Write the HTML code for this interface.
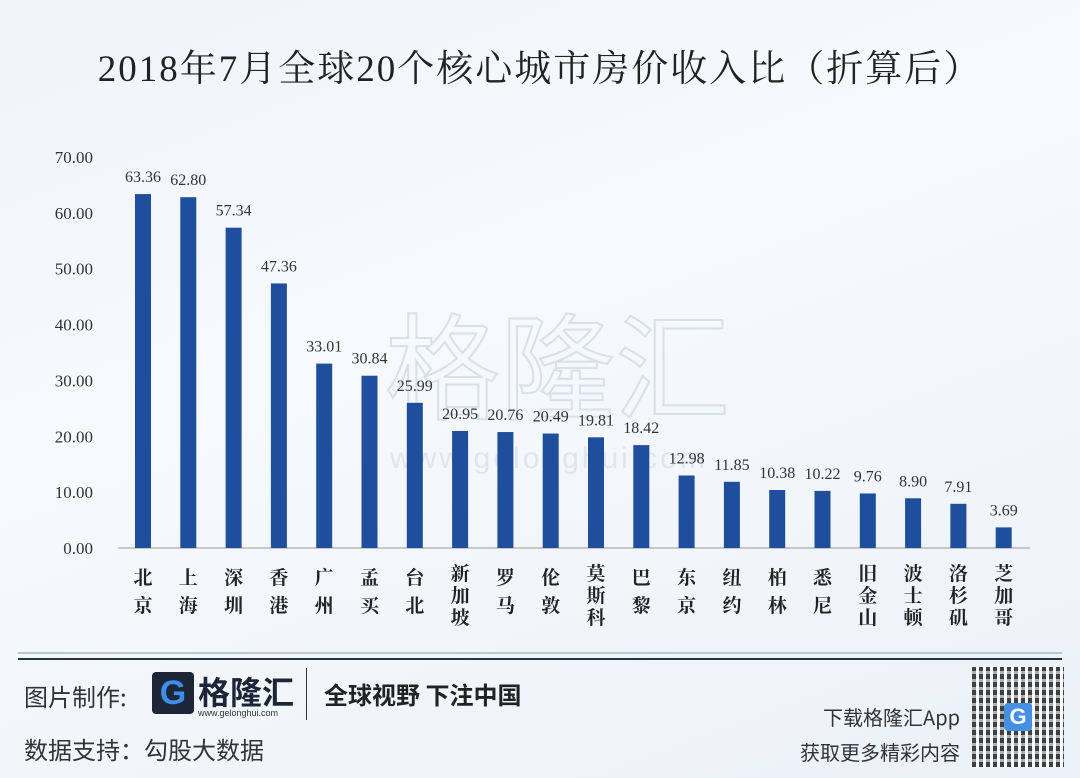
<!DOCTYPE html>
<html><head><meta charset="utf-8"><style>
body{margin:0;width:1080px;height:778px;overflow:hidden;background:linear-gradient(160deg,#eef4fa 0%,#f7fafd 40%,#eaf1f8 100%);font-family:"Liberation Serif","Noto Serif CJK SC",serif;position:relative}
.t{position:absolute}
</style></head><body>
<div class="t" style="left:0;width:1080px;top:38px;text-align:center;font-size:37px;color:#222;letter-spacing:2px">2018年7月全球20个核心城市房价收入比（折算后）</div>
<svg class="t" style="left:0;top:0" width="1080" height="660">
<text x="385" y="410" font-size="115" fill="none" stroke="#d8e0ea" stroke-width="2" font-family="Noto Sans CJK SC,sans-serif">格隆汇</text>
<text x="390" y="468" font-size="30" fill="#dfe6ee" font-family="Liberation Sans,sans-serif" letter-spacing="3">www.gelonghui.com</text>
<g id="g"></g></svg>
<div class="t" style="left:18px;top:652px;width:1044px;height:2px;background:#bcc6d2"></div>
<div class="t" style="left:18px;top:658px;width:1044px;height:2px;background:#2a3342"></div>
<div class="t" style="left:24px;top:678px;font:24px 'Noto Sans CJK SC',sans-serif;color:#333">图片制作:</div>
<div class="t" style="left:152px;top:672px;width:42px;height:42px;background:#1d2638;border-radius:4px;color:#3d8ee8;font:bold 34px 'Liberation Sans',sans-serif;text-align:center;line-height:42px">G</div>
<div class="t" style="left:198px;top:668px;font:bold 32px 'Noto Sans CJK SC',sans-serif;color:#1d2638">格隆汇</div>
<div class="t" style="left:198px;top:708px;font:9px 'Liberation Sans',sans-serif;color:#333">www.gelonghui.com</div>
<div class="t" style="left:306px;top:668px;width:1px;height:52px;background:#333"></div>
<div class="t" style="left:324px;top:676px;font:bold 24px 'Noto Sans CJK SC',sans-serif;color:#222">全球视野 下注中国</div>
<div class="t" style="left:24px;top:731px;font:24px 'Noto Sans CJK SC',sans-serif;color:#333">数据支持：勾股大数据</div>
<div class="t" style="left:800px;top:702px;width:160px;text-align:right;font:20px 'Noto Sans CJK SC',sans-serif;color:#333">下载格隆汇App</div>
<div class="t" style="left:780px;top:737px;width:180px;text-align:right;font:20px 'Noto Sans CJK SC',sans-serif;color:#333">获取更多精彩内容</div>
<div class="t" style="left:972px;top:667px;width:92px;height:100px;background:repeating-linear-gradient(0deg,transparent 0 5px,rgba(255,255,255,.6) 5px 8px),repeating-linear-gradient(90deg,#222 0 4px,#fff 4px 7px);opacity:.85"><div style="position:absolute;left:32px;top:36px;width:28px;height:28px;background:#2a7fe0;color:#fff;font:bold 22px 'Liberation Sans';text-align:center;line-height:28px;border-radius:4px">G</div></div>
<script>
const categories=["北京","上海","深圳","香港","广州","孟买","台北","新加坡","罗马","伦敦","莫斯科","巴黎","东京","纽约","柏林","悉尼","旧金山","波士顿","洛杉矶","芝加哥"];
const values=[63.36,62.80,57.34,47.36,33.01,30.84,25.99,20.95,20.76,20.49,19.81,18.42,12.98,11.85,10.38,10.22,9.76,8.90,7.91,3.69];
const ticks=[0,10,20,30,40,50,60,70];
const g=document.getElementById('g'),NS='http://www.w3.org/2000/svg';
const y=v=>548-v*5.586, x=i=>143+i*45.3;
function mk(t,a){const e=document.createElementNS(NS,t);for(const k in a)e.setAttribute(k,a[k]);g.appendChild(e);return e;}
ticks.forEach(t=>{const e=mk('text',{x:93,y:y(t)+6,'text-anchor':'end','font-size':17,fill:'#333'});e.textContent=t.toFixed(2);

});
const ax=mk('line',{x1:118,x2:1030,y1:548,y2:548,stroke:'#999','stroke-width':1});


values.forEach((v,i)=>{const r=mk('rect',{x:x(i)-8,y:y(v),width:16,height:548-y(v),fill:'#1f4e9c'});


const l=mk('text',{x:x(i),y:y(v)-12,'text-anchor':'middle','font-size':16,fill:'#333'});l.textContent=v.toFixed(2);


const c=categories[i],n=c.length,step=n===3?22:28,start=n===3?580:584;
for(let k=0;k<n;k++){const e=mk('text',{x:x(i),y:start+k*step,'text-anchor':'middle','font-size':19,'font-weight':'bold',fill:'#222','font-family':'Noto Serif CJK SC,serif'});e.textContent=c[k];

}
});
</script>
</body></html>
